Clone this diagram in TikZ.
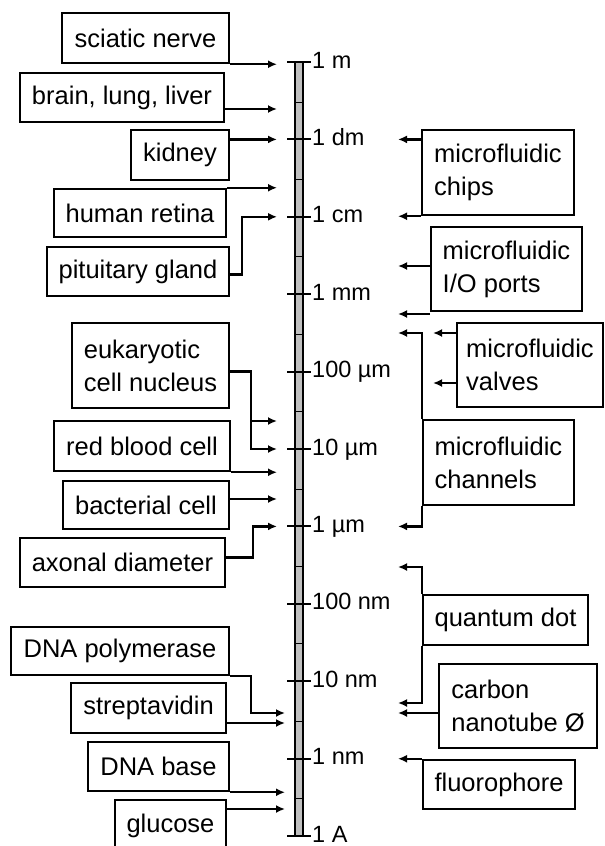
\documentclass[tikz,border=0pt]{standalone}
\usepackage{fontspec}
\setmainfont{Liberation Sans}
\usetikzlibrary{arrows.meta}

\begin{document}
\begin{tikzpicture}[x=1pt,y=-1pt,>={Latex[length=9pt,width=8pt]},
  box/.style={draw,line width=2.5pt,inner sep=0pt,align=left,font=\fontsize{25.5}{33}\selectfont},
  arr/.style={->,line width=2.2pt},
  scl/.style={anchor=base west,inner sep=0pt,font=\fontsize{23.5}{28}\selectfont}]
\useasboundingbox (0,0) rectangle (605,846);
% scale bar
\fill[black!25] (295,62) rectangle (303,836);
\foreach \k in {0,...,9} \draw[line width=1pt] (295,102+77.4*\k)--(303,102+77.4*\k);
\draw[line width=1.5pt] (295,62) rectangle (303,836);
\foreach \k/\lab in {0/1 m,1/1 dm,2/1 cm,3/1 mm,4/100 µm,5/10 µm,6/1 µm,7/100 nm,8/10 nm,9/1 nm,10/1 A}{
  \coordinate (t\k) at (299,62+77.4*\k);
  \draw[line width=2pt] (287,62+77.4*\k)--(311,62+77.4*\k);
  \node[scl] (lab\k) at (312,68+77.4*\k) {\lab};
}
\coordinate (L) at (277,0);
\coordinate (Lb) at (285,0);
\coordinate (R) at (398,0);
% left side
\node[box,minimum width=167pt,minimum height=50pt] (sci) at (145.5,38) {sciatic nerve};
\node[box,minimum width=204pt,minimum height=49pt] (brain) at (122,97.5) {brain, lung, liver};
\node[box,minimum width=98pt,minimum height=50pt] (kid) at (180,155) {kidney};
\node[box,minimum width=172pt,minimum height=48pt] (ret) at (140,213) {human retina};
\node[box,minimum width=182pt,minimum height=49pt] (pit) at (138,271.5) {pituitary gland};
\node[box,minimum width=157pt,minimum height=85pt] (euk) at (150.5,365.5) {eukaryotic\\cell nucleus};
\node[box,minimum width=176pt,minimum height=50pt] (rbc) at (142,446) {red blood cell};
\node[box,minimum width=166pt,minimum height=48pt] (bac) at (146,505) {bacterial cell};
\node[box,minimum width=205pt,minimum height=49pt] (axo) at (122.5,562.5) {axonal diameter};
\node[box,minimum width=218pt,minimum height=48pt] (pol) at (120,651) {DNA polymerase};
\node[box,minimum width=155pt,minimum height=50pt] (strep) at (148.5,708) {streptavidin};
\node[box,minimum width=141pt,minimum height=49pt] (base) at (158.5,766.5) {DNA base};
\node[box,minimum width=111pt,minimum height=52pt] (glu) at (170.5,826) {glucose};
\coordinate (pBrain) at (277,109);
\coordinate (pEuk) at (277,421);
\coordinate (pBac) at (277,499);
\coordinate (pPol) at (285,713);
\coordinate (pStr) at (285,723);
\coordinate (pGlu) at (285,809);
\draw[arr] (sci.south east)--(sci.south east -| L);
\draw[arr] (brain.east |- pBrain)--(pBrain);
\draw[arr] (kid.east |- t1)--(L |- t1);
\draw[arr] (ret.north east)--(ret.north east -| L);
\draw[arr] ([yshift=-3pt]pit.east)--++(12,0) |- (L |- t2);
\draw[arr] ([yshift=-6pt]euk.east)--++(21,0) |- (L |- t5);
\draw[arr] ([yshift=-6pt]euk.east)--++(21,0) |- (pEuk);
\draw[arr] (rbc.south east)--(rbc.south east -| L);
\draw[arr] (bac.east |- pBac)--(pBac);
\draw[arr] ([yshift=5pt]axo.east)--++(27,0) |- (L |- t6);
\draw[arr] (pol.south east)--++(21,0) |- (pPol);
\draw[arr] (strep.east |- pStr)--(pStr);
\draw[arr] (base.south east)--(base.south east -| Lb);
\draw[arr] (glu.east |- pGlu)--(pGlu);
% right side
\node[box,minimum width=152pt,minimum height=85pt] (chips) at (498,172.5) {microfluidic\\chips};
\node[box,minimum width=151pt,minimum height=84pt] (io) at (506.5,269) {microfluidic\\I/O ports};
\node[box,minimum width=146pt,minimum height=84pt] (valv) at (530,365) {microfluidic\\valves};
\node[box,minimum width=151pt,minimum height=85pt] (chan) at (498.5,462.5) {microfluidic\\channels};
\node[box,minimum width=165pt,minimum height=50pt] (qd) at (505.5,620) {quantum dot};
\node[box,minimum width=158pt,minimum height=84pt] (cnt) at (518,706) {carbon\\nanotube Ø};
\node[box,minimum width=152pt,minimum height=49pt] (fl) at (499,784.5) {fluorophore};
\coordinate (pIo1) at (398,266);
\coordinate (pIo2) at (398,314);
\coordinate (pV1) at (433,333);
\coordinate (pV2) at (433,383);
\coordinate (pCh) at (398,333);
\coordinate (pQd1) at (398,567);
\coordinate (pQd2) at (398,703);
\coordinate (pCnt) at (398,713);
\draw[arr] (chips.west |- t1)--(R |- t1);
\draw[arr] (chips.south west)--(chips.south west -| R);
\draw[arr] (io.west |- pIo1)--(pIo1);
\draw[arr] (io.west |- pIo2)--(pIo2);
\draw[arr] (valv.west |- pV1)--(pV1);
\draw[arr] (valv.west |- pV2)--(pV2);
\draw[arr] (chan.north west) |- (pCh);
\draw[arr] (chan.south west) |- (R |- t6);
\draw[arr] (qd.north west) |- (pQd1);
\draw[arr] (qd.south west) |- (pQd2);
\draw[arr] (cnt.west |- pCnt)--(pCnt);
\draw[arr] (fl.north west)--(fl.north west -| R);
\end{tikzpicture}
\end{document}
